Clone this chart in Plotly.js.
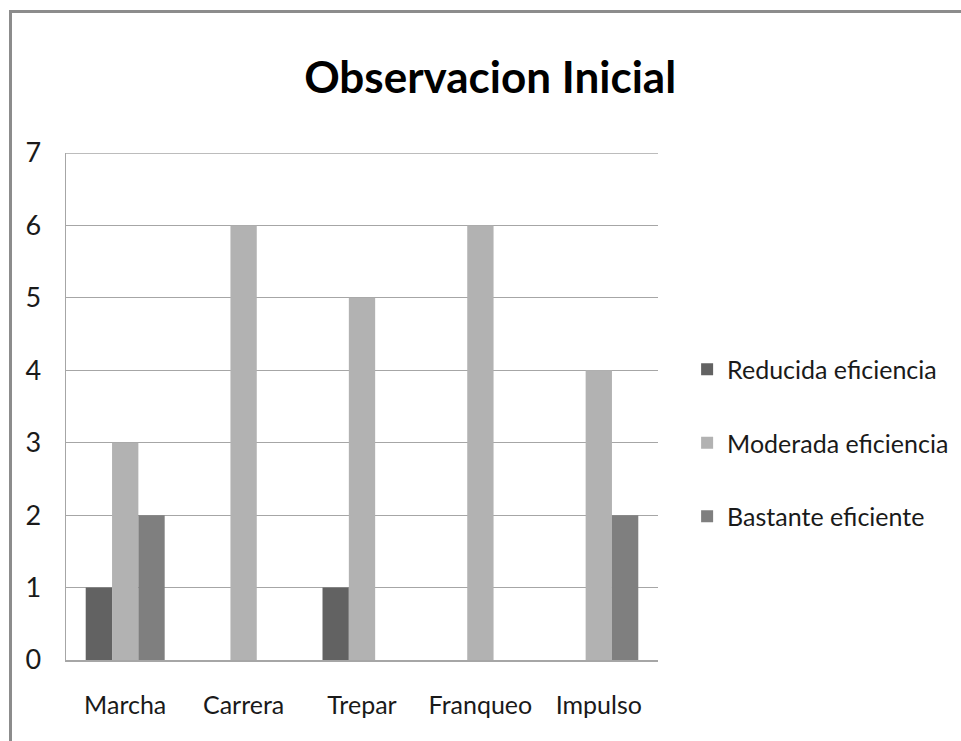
<!DOCTYPE html>
<html>
<head>
<meta charset="utf-8">
<script src="https://cdn.plot.ly/plotly-3.0.1.min.js"></script>
<style>
  html, body { margin: 0; padding: 0; background: #ffffff; }
  #frame { position: absolute; left: 9px; top: 10px; width: 960px; height: 740px;
           border-top: 3px solid #8c8c8c; border-left: 3px solid #8c8c8c; }
  #chart { position: absolute; left: 0; top: 0; width: 961px; height: 741px; }
</style>
</head>
<body>
<div id="frame"></div>
<div id="chart"></div>
<script>
const categories = ["Marcha", "Carrera", "Trepar", "Franqueo", "Impulso"];
const reducida = [1, 0, 1, 0, 0];
const moderada = [3, 6, 5, 6, 4];
const bastante = [2, 0, 0, 0, 2];
const seriesNames = ["Reducida eficiencia", "Moderada eficiencia", "Bastante eficiente"];
const yTicks = [0, 1, 2, 3, 4, 5, 6, 7];

const FONT = "Lato, 'Open Sans', sans-serif";
const colors = ["#626262", "#b2b2b2", "#7f7f7f"];
const seriesData = [reducida, moderada, bastante];

const traces = seriesData.map((vals, i) => ({
  type: "bar",
  name: seriesNames[i],
  x: categories,
  y: vals,
  legendgroup: "g" + i,
  marker: { color: colors[i], line: { width: 0 } },
  hoverinfo: "x+y+name"
}));

const yMax = yTicks[yTicks.length - 1];

const layout = {
  width: 961, height: 741,
  paper_bgcolor: "rgba(0,0,0,0)",
  plot_bgcolor: "#ffffff",
  margin: { l: 66, r: 303, t: 153, b: 81 },
  barmode: "group",
  bargap: 0.333,
  bargroupgap: 0,
  font: { family: FONT, color: "#1a1a1a" },
  title: {
    text: "<b>Observacion Inicial</b>",
    font: { family: FONT, size: 44, color: "#000000" },
    x: 0.51, xanchor: "center",
    y: 0.895, yanchor: "middle"
  },
  xaxis: {
    type: "category",
    showline: true, linecolor: "#a6a6a6", linewidth: 1.5,
    ticks: "", showgrid: false,
    tickfont: { family: FONT, size: 25, color: "#1a1a1a" },
    ticklabelstandoff: 22,
    mirror: false
  },
  yaxis: {
    range: [0, yMax],
    tickvals: yTicks,
    ticktext: yTicks.map(String),
    showline: true, linecolor: "#a6a6a6", linewidth: 1.5,
    showgrid: true, gridcolor: "#a6a6a6", gridwidth: 1,
    zeroline: false,
    ticks: "",
    tickfont: { family: FONT, size: 27, color: "#1a1a1a" },
    ticklabelstandoff: 18
  },
  shapes: [{
    type: "line", xref: "paper", yref: "y",
    x0: 0, x1: 1, y0: yMax, y1: yMax,
    line: { color: "#a6a6a6", width: 1.5 }
  }],
  showlegend: true,
  legend: {
    x: 0.715, xref: "container",
    y: 0.428, yanchor: "middle",
    xanchor: "left",
    font: { family: FONT, size: 25, color: "#1a1a1a" },
    tracegroupgap: 38,
    itemwidth: 30,
    bgcolor: "rgba(0,0,0,0)"
  }
};

Plotly.newPlot("chart", traces, layout, { displayModeBar: false, staticPlot: true });
</script>
</body>
</html>
